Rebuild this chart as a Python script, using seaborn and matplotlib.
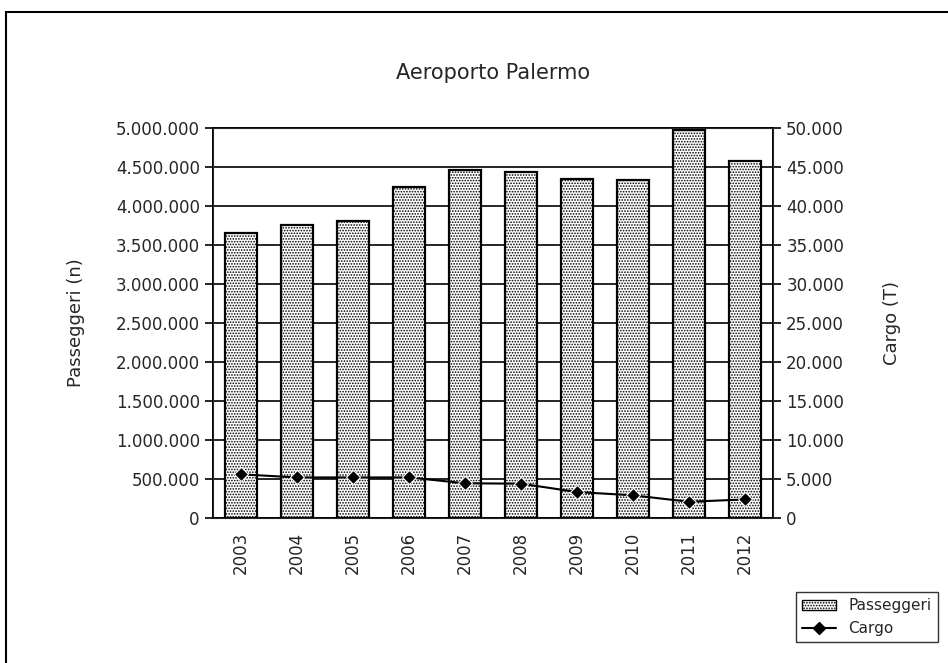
import numpy as np
import pandas as pd
import seaborn as sns
import matplotlib.pyplot as plt
from matplotlib.ticker import FuncFormatter, MultipleLocator, FixedLocator
from matplotlib.patches import Patch
from matplotlib.lines import Line2D

anni = ["2003", "2004", "2005", "2006", "2007", "2008", "2009", "2010", "2011", "2012"]
passeggeri = [3654000, 3753000, 3808000, 4244000, 4467000, 4432000, 4351000, 4338000, 4979000, 4577000]
cargo = [5600, 5200, 5200, 5200, 4450, 4400, 3330, 2910, 2080, 2380]

sns.set_style("white")
plt.rcParams['font.family'] = ['DejaVu Sans']
plt.rcParams['hatch.linewidth'] = 0.8

df = pd.DataFrame({"anno": anni, "passeggeri": passeggeri, "cargo": cargo})


def punti(v, pos):
    return f"{int(v):,}".replace(",", ".")


fig = plt.figure(figsize=(9.48, 6.63), dpi=100)
ax = fig.add_axes([213 / 948, 1 - 518 / 663, 560 / 948, 390 / 663])

sns.barplot(data=df, x="anno", y="passeggeri", ax=ax, color="white",
            edgecolor="black", linewidth=1.6, width=0.57, zorder=3)
for p in ax.patches:
    p.set_hatch("......")

ax.set_ylim(0, 5000000)
ax.set_xlim(-0.5, len(anni) - 0.5)
ax.yaxis.set_major_locator(MultipleLocator(500000))
ax.yaxis.set_major_formatter(FuncFormatter(punti))
ax.grid(axis="y", color="black", linewidth=1.2, zorder=0)
ax.set_axisbelow(True)
ax.set_xlabel("")
ax.set_ylabel("Passeggeri (n)", fontsize=13, labelpad=22)
ax.set_title("Aeroporto Palermo", fontsize=15, pad=35)

ax.xaxis.set_major_locator(FixedLocator(range(len(anni))))
ax.set_xticklabels(anni, rotation=90, fontsize=12)
ax.xaxis.set_minor_locator(FixedLocator(np.arange(-0.5, len(anni), 1.0)))
ax.tick_params(axis="x", which="major", length=0, pad=10)
ax.tick_params(axis="x", which="minor", length=6, width=1.2, direction="out", color="black")
ax.tick_params(axis="y", length=6, width=1.2, direction="out", color="black", labelsize=12, left=True)

for s in ax.spines.values():
    s.set_visible(True)
    s.set_color("black")
    s.set_linewidth(1.4)

ax2 = ax.twinx()
sns.lineplot(data=df, x="anno", y="cargo", ax=ax2, color="black", marker="D",
             markersize=7, linewidth=1.5, zorder=5)
ax2.set_ylim(0, 50000)
ax2.yaxis.set_major_locator(MultipleLocator(5000))
ax2.yaxis.set_major_formatter(FuncFormatter(punti))
ax2.set_ylabel("Cargo (T)", fontsize=13, labelpad=28)
ax2.tick_params(axis="y", length=6, width=1.2, direction="out", color="black", labelsize=12, right=True)
ax2.set_xlim(-0.5, len(anni) - 0.5)
ax2.set_xlabel("")

handles = [Patch(facecolor="white", edgecolor="black", hatch="......", label="Passeggeri"),
           Line2D([0], [0], color="black", marker="D", markersize=6, linewidth=1.5, label="Cargo")]
leg = fig.legend(handles=handles, loc="lower right", bbox_to_anchor=(0.997, 0.02),
                 frameon=True, fontsize=11, handlelength=2.2, borderpad=0.4,
                 labelspacing=0.5, fancybox=False, edgecolor="black")
leg.get_frame().set_linewidth(1.0)

fig.patches.append(plt.Rectangle((0.006, -0.1), 1.2, 1.082, transform=fig.transFigure,
                                 fill=False, edgecolor="black", linewidth=1.5))

fig.savefig("out.png", dpi=100)
